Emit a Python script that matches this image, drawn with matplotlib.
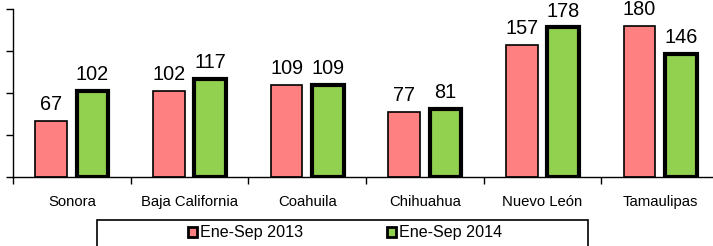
import matplotlib.pyplot as plt
import numpy as np
from matplotlib.patches import Patch, Rectangle

plt.rcParams['font.family'] = ['Liberation Sans', 'DejaVu Sans']

states = ['Sonora', 'Baja California', 'Coahuila', 'Chihuahua', 'Nuevo León', 'Tamaulipas']
vals_2013 = [67, 102, 109, 77, 157, 180]
vals_2014 = [102, 117, 109, 81, 178, 146]
series_names = ['Ene-Sep 2013', 'Ene-Sep 2014']

red = '#FF8080'
green = '#92D050'

W, H = 713, 246
fig = plt.figure(figsize=(W / 100, H / 100), dpi=100)

# axes spans slightly past the right edge like the original
ax = fig.add_axes([13 / W, 1 - 177 / H, 706 / W, 168 / H])

x = np.arange(len(states))
bw = 0.27
off = 0.175
ax.bar(x - off, vals_2013, bw, color=red, edgecolor='black', linewidth=1.2, zorder=2)
ax.bar(x + off, vals_2014, bw, color=green, edgecolor='black', linewidth=3, zorder=2)

for xi, v in zip(x - off, vals_2013):
    ax.annotate(str(v), (xi, v), xytext=(0, 5), textcoords='offset points',
                ha='center', va='bottom', fontsize=14.3, annotation_clip=False)
for xi, v in zip(x + off, vals_2014):
    ax.annotate(str(v), (xi, v), xytext=(0, 5), textcoords='offset points',
                ha='center', va='bottom', fontsize=14.3, annotation_clip=False)

ax.set_xlim(-0.5, len(states) - 0.5)
ax.set_ylim(0, 200)
ax.set_yticks(np.arange(0, 201, 50))
ax.set_yticklabels([])
ax.tick_params(axis='y', direction='out', length=5, width=1)

ax.set_xticks(x)
ax.set_xticklabels(states, fontsize=10.7)
ax.tick_params(axis='x', which='major', length=0, pad=13)
ax.set_xticks(np.arange(-0.5, len(states), 1), minor=True)
ax.tick_params(axis='x', which='minor', direction='out', length=5, width=1)

for s in ['top', 'right']:
    ax.spines[s].set_visible(False)
for s in ['left', 'bottom']:
    ax.spines[s].set_linewidth(1)

# legend frame, cut off by the bottom edge
fig.patches.append(Rectangle((97 / W, -0.05), 491 / W, 0.05 + 26 / H,
                             transform=fig.transFigure, fill=False,
                             edgecolor='black', linewidth=1.2))
handles = [Patch(facecolor=red, edgecolor='black', linewidth=2),
           Patch(facecolor=green, edgecolor='black', linewidth=2)]
fig.legend(handles, series_names, loc='center', bbox_to_anchor=(345 / W, 1 - 233 / H),
           ncol=2, frameon=False, fontsize=11.6, handlelength=0.55, handleheight=0.55,
           handletextpad=0.2, columnspacing=5.2, borderpad=0)

fig.savefig('out.png', dpi=100)
